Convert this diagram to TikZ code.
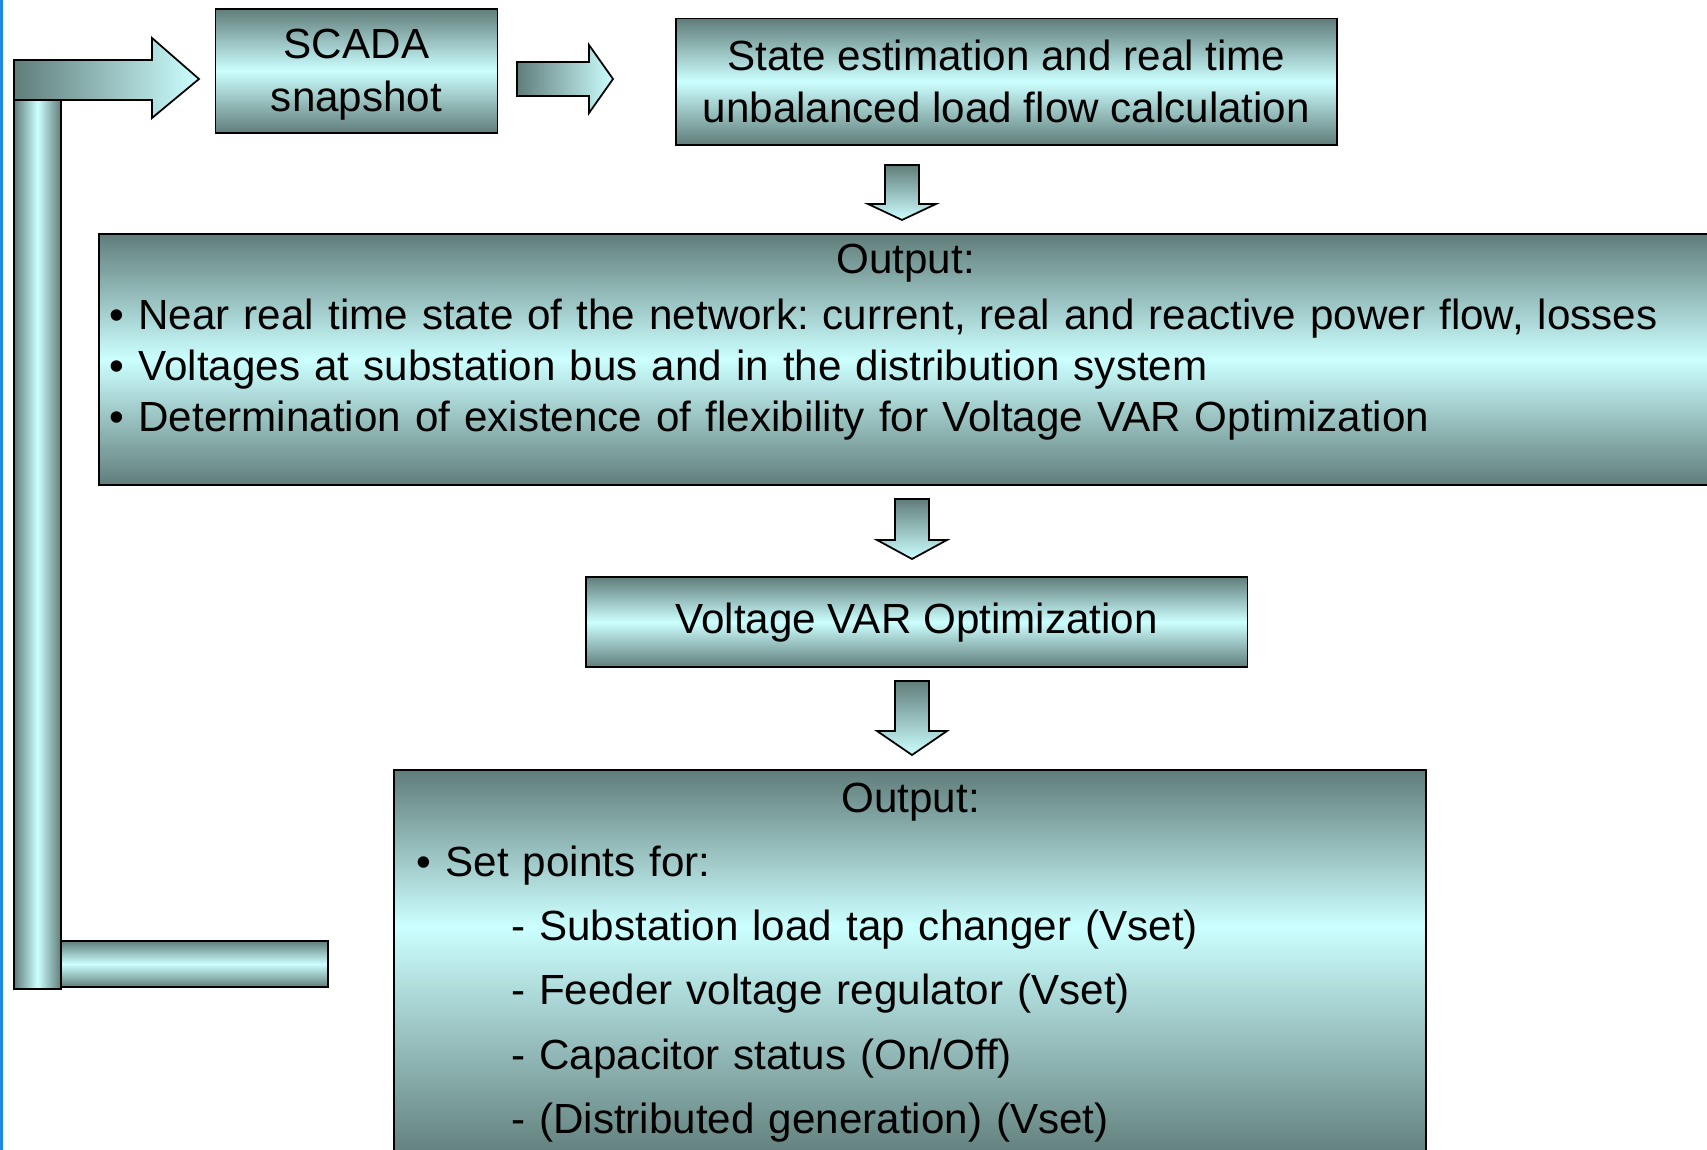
\documentclass[tikz,border=0pt]{standalone}
\usepackage{fontspec}
\setmainfont{Liberation Sans}
\definecolor{boxdark}{RGB}{96,125,122}
\definecolor{boxlight}{RGB}{204,255,255}
\definecolor{edgeblue}{RGB}{30,136,229}
% lower output box runs off the slide, so its light band sits above the middle
\pgfdeclareverticalshading{lowbox}{100bp}{color(0bp)=(boxdark); color(25bp)=(boxdark); color(55bp)=(boxlight); color(75bp)=(boxdark); color(100bp)=(boxdark)}

\begin{document}
\frenchspacing
\begin{tikzpicture}[
  box/.style={draw=black,line width=.5pt,top color=boxdark,bottom color=boxdark,middle color=boxlight,inner sep=0pt,align=center,font=\fontsize{12}{14.8}\selectfont},
  txt/.style={inner sep=0pt,align=left,font=\fontsize{12}{14.6}\selectfont},
  vbar/.style={draw=black,line width=.5pt,left color=boxdark,right color=boxdark,middle color=boxlight},
  darr/.style={draw=black,line width=.5pt,top color=boxdark,bottom color=boxlight},
  rarr/.style={draw=black,line width=.5pt,left color=boxdark,right color=boxlight}]
  \useasboundingbox (0,0) rectangle (17.07,-11.5);
  \fill[white] (0,0) rectangle (17.07,-11.5);
  \fill[edgeblue] (0,0) rectangle (0.03,-11.5);
  % Feedback arrow on the left-hand side
  \draw[box] (0.14,-9.41) rectangle (3.28,-9.87);
  \draw[vbar] (0.14,-1.00) rectangle (0.61,-9.89);
  \draw[rarr] (0.14,-0.60) -- (1.52,-0.60) -- (1.52,-0.38) -- (1.99,-0.79) -- (1.52,-1.18) -- (1.52,-1.00) -- (0.14,-1.00) -- cycle;
  % Boxes
  \node[box,minimum width=2.82cm,minimum height=1.24cm]   (scada) at (3.565,-0.708) {};
  \node[txt,align=center,font=\fontsize{12}{15.1}\selectfont] (scadatxt) at (3.565,-0.75) {SCADA\\snapshot};
  \node[box,minimum width=6.61cm,minimum height=1.263cm]  (state) at (10.064,-0.816) {State estimation and real time\\unbalanced load flow calculation};
  \node[box,minimum width=16.12cm,minimum height=2.51cm]  (out1)  at (9.05,-3.595) {};
  \node[box,minimum width=6.618cm,minimum height=0.903cm] (vvo)   at (9.166,-6.221) {Voltage VAR Optimization};
  \node[box,shading=lowbox,minimum width=10.32cm,minimum height=3.9cm] (out2) at (9.10,-9.65) {};
  % Box texts
  \node[txt,text width=15.92cm,anchor=base west] (out1txt) at (1.09,-2.74) {\makebox[\linewidth]{Output:}\\[1.1pt]
    • Near real time state of the network: current, real and reactive power flow, losses\\
    • Voltages at substation bus and in the distribution system\\
    • Determination of existence of flexibility for Voltage VAR Optimization};
  \node[txt,font=\fontsize{12}{18.3}\selectfont,text width=9.88cm,anchor=base west] (out2txt) at (4.16,-8.12) {\makebox[\linewidth]{Output:}\\
    • Set points for:\\
    \hspace*{0.944cm}- Substation load tap changer (Vset)\\
    \hspace*{0.944cm}- Feeder voltage regulator (Vset)\\
    \hspace*{0.944cm}- Capacitor status (On/Off)\\
    \hspace*{0.944cm}- (Distributed generation) (Vset)};
  % Block arrows
  \draw[rarr] (5.17,-0.62) -- (5.89,-0.62) -- (5.89,-0.45) -- (6.13,-0.79) -- (5.89,-1.13) -- (5.89,-0.96) -- (5.17,-0.96) -- cycle;
  \draw[darr] (8.85,-1.65) -- (9.19,-1.65) -- (9.19,-2.04) -- (9.36,-2.04) -- (9.02,-2.20) -- (8.68,-2.04) -- (8.85,-2.04) -- cycle;
  \draw[darr] (8.95,-4.99) -- (9.29,-4.99) -- (9.29,-5.40) -- (9.47,-5.40) -- (9.12,-5.59) -- (8.77,-5.40) -- (8.95,-5.40) -- cycle;
  \draw[darr] (8.95,-6.81) -- (9.29,-6.81) -- (9.29,-7.31) -- (9.47,-7.31) -- (9.12,-7.55) -- (8.77,-7.31) -- (8.95,-7.31) -- cycle;
\end{tikzpicture}
\end{document}
